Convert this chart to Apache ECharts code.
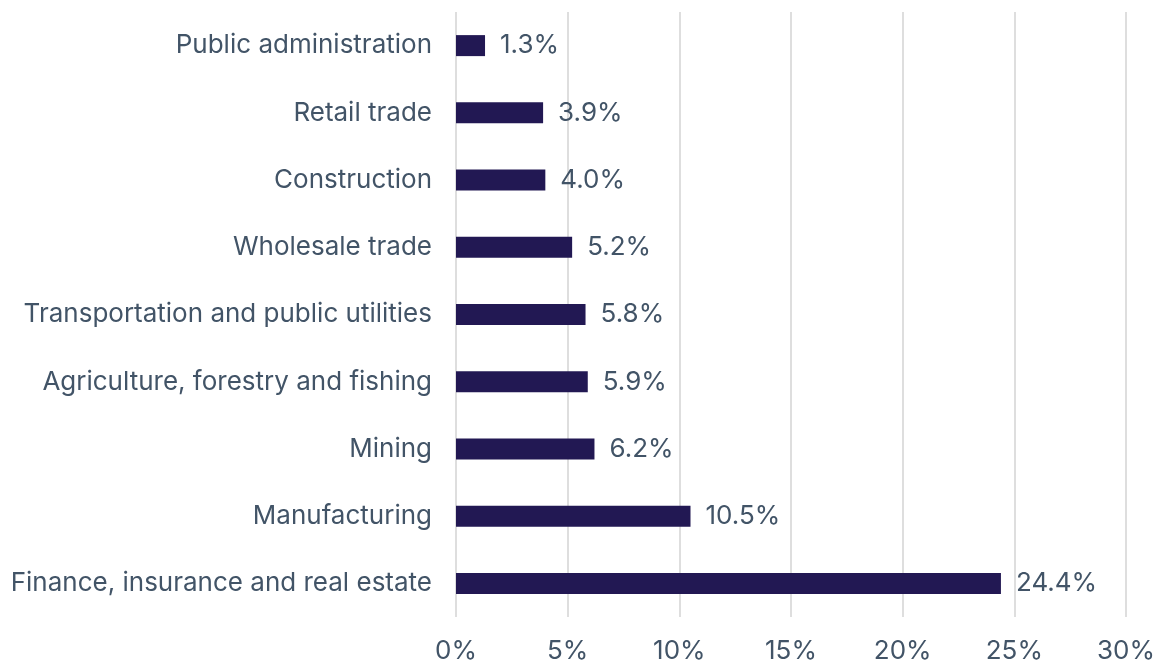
<!DOCTYPE html>
<html>
<head>
<meta charset="utf-8">
<title>Share by industry</title>
<script src="https://cdn.jsdelivr.net/npm/echarts@6/dist/echarts.min.js"></script>
<style>
  html, body { margin: 0; padding: 0; background: #fff; }
  #chart { width: 1163px; height: 664px; }
</style>
</head>
<body>
<div id="chart"></div>
<script>
// categories bottom to top (ECharts category y axis starts at the bottom)
var industries = [
  'Finance, insurance and real estate',
  'Manufacturing',
  'Mining',
  'Agriculture, forestry and fishing',
  'Transportation and public utilities',
  'Wholesale trade',
  'Construction',
  'Retail trade',
  'Public administration'
]
var shares = [24.4, 10.5, 6.2, 5.9, 5.8, 5.2, 4.0, 3.9, 1.3]
var xTicks = [0, 5, 10, 15, 20, 25, 30]

var textColor = '#425467'
var font = 'Inter, "Noto Sans", sans-serif'

var chart = echarts.init(document.getElementById('chart'))
chart.setOption({
  animation: false,
  grid: { left: 456, right: 37, top: 12, bottom: 44, containLabel: false },
  xAxis: {
    type: 'value',
    min: xTicks[0],
    max: xTicks[xTicks.length - 1],
    interval: 5,
    axisLine: { show: false },
    axisTick: { show: false },
    splitLine: { lineStyle: { color: '#dedede', width: 2 } },
    axisLabel: {
      color: textColor,
      fontFamily: font,
      fontSize: 26,
      margin: 21,
      formatter: function(v) { return v + '%' }
    }
  },
  yAxis: {
    type: 'category',
    data: industries,
    axisLine: { show: false },
    axisTick: { show: false },
    axisLabel: {
      color: textColor,
      fontFamily: font,
      fontSize: 26,
      margin: 24
    }
  },
  series: [{
    type: 'bar',
    data: shares,
    barWidth: 21,
    itemStyle: { color: '#221853' },
    label: {
      show: true,
      position: 'right',
      distance: 15,
      color: textColor,
      fontFamily: font,
      fontSize: 26,
      formatter: function(p) { return p.value.toFixed(1) + '%' }
    }
  }]
})
</script>
</body>
</html>
